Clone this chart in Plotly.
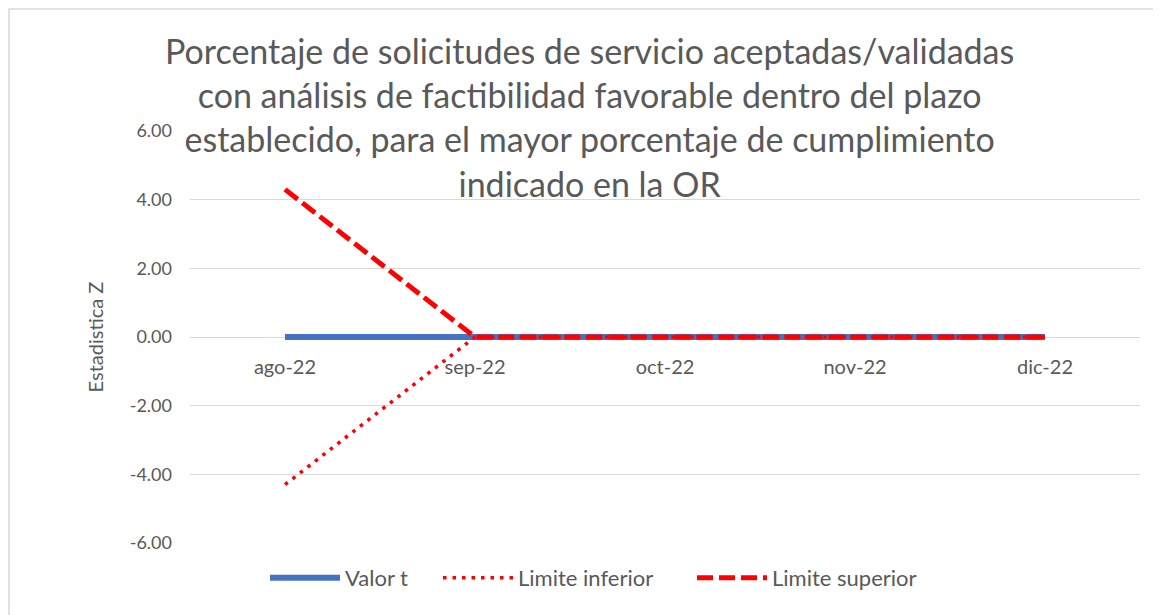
import plotly.graph_objects as go

meses = ["ago-22", "sep-22", "oct-22", "nov-22", "dic-22"]
valor_t = [0, 0, 0, 0, 0]
limite_inferior = [-4.3, 0, 0, 0, 0]
limite_superior = [4.3, 0, 0, 0, 0]
y_ticks = [-6, -4, -2, 0, 2, 4, 6]

titulo = ("Porcentaje de solicitudes de servicio aceptadas/validadas<br>"
          "con análisis de factibilidad favorable dentro del plazo<br>"
          "establecido, para el mayor porcentaje de cumplimiento<br>"
          "indicado en la OR")

GRIS = "#595959"
FUENTE = "Lato"

fig = go.Figure()
fig.add_trace(go.Scatter(x=meses, y=valor_t, name="Valor t", mode="lines",
                         line=dict(color="#4472C4", width=6), legend="legend"))
fig.add_trace(go.Scatter(x=meses, y=limite_inferior, name="Limite inferior", mode="lines",
                         line=dict(color="#FF0000", width=3.5, dash="3.5px,6px"), legend="legend2"))
fig.add_trace(go.Scatter(x=meses, y=limite_superior, name="Limite superior", mode="lines",
                         line=dict(color="#FF0000", width=5, dash="16px,6px"), legend="legend3"))


def leyenda(x):
    return dict(orientation="h", x=x, xanchor="left", y=-0.085, yanchor="middle",
                font=dict(size=22, color=GRIS), itemwidth=70, bgcolor="rgba(0,0,0,0)")


fig.update_layout(
    width=1153, height=607,
    margin=dict(l=182, r=21, t=123, b=72),
    plot_bgcolor="white", paper_bgcolor="white",
    font=dict(family=FUENTE, color=GRIS, size=18),
    xaxis=dict(type="category", range=[-0.5, 4.5], anchor="free", position=0.5,
               showline=False, showgrid=False, ticks="", ticklabelstandoff=16,
               tickfont=dict(size=20, color=GRIS)),
    yaxis=dict(range=[-6, 6], tickvals=y_ticks, ticktext=[f"{v:.2f}" for v in y_ticks],
               gridcolor="#d9d9d9", gridwidth=1.3, zeroline=False, showline=False,
               ticks="", ticklabelstandoff=17, tickfont=dict(size=18, color=GRIS),
               title=dict(text="Estadistica Z", font=dict(size=20, color=GRIS), standoff=20)),
    legend=leyenda((270 - 8 - 182 - 5) / 950),
    legend2=leyenda((443 - 8 - 182 - 5) / 950),
    legend3=leyenda((697 - 8 - 182 - 5) / 950),
    showlegend=True,
)

fig.add_annotation(text=titulo, xref="paper", yref="paper", x=0.421, y=1.033,
                   xanchor="center", yanchor="middle", showarrow=False,
                   font=dict(size=34, color=GRIS, family=FUENTE))

# borde del área del gráfico
fig.add_shape(type="rect", xref="paper", yref="paper",
              x0=-181 / 950, x1=1.2, y0=-0.3, y1=1 + 122 / 412,
              line=dict(color="#d9d9d9", width=1.5), layer="below")

fig.write_html("out.html")
